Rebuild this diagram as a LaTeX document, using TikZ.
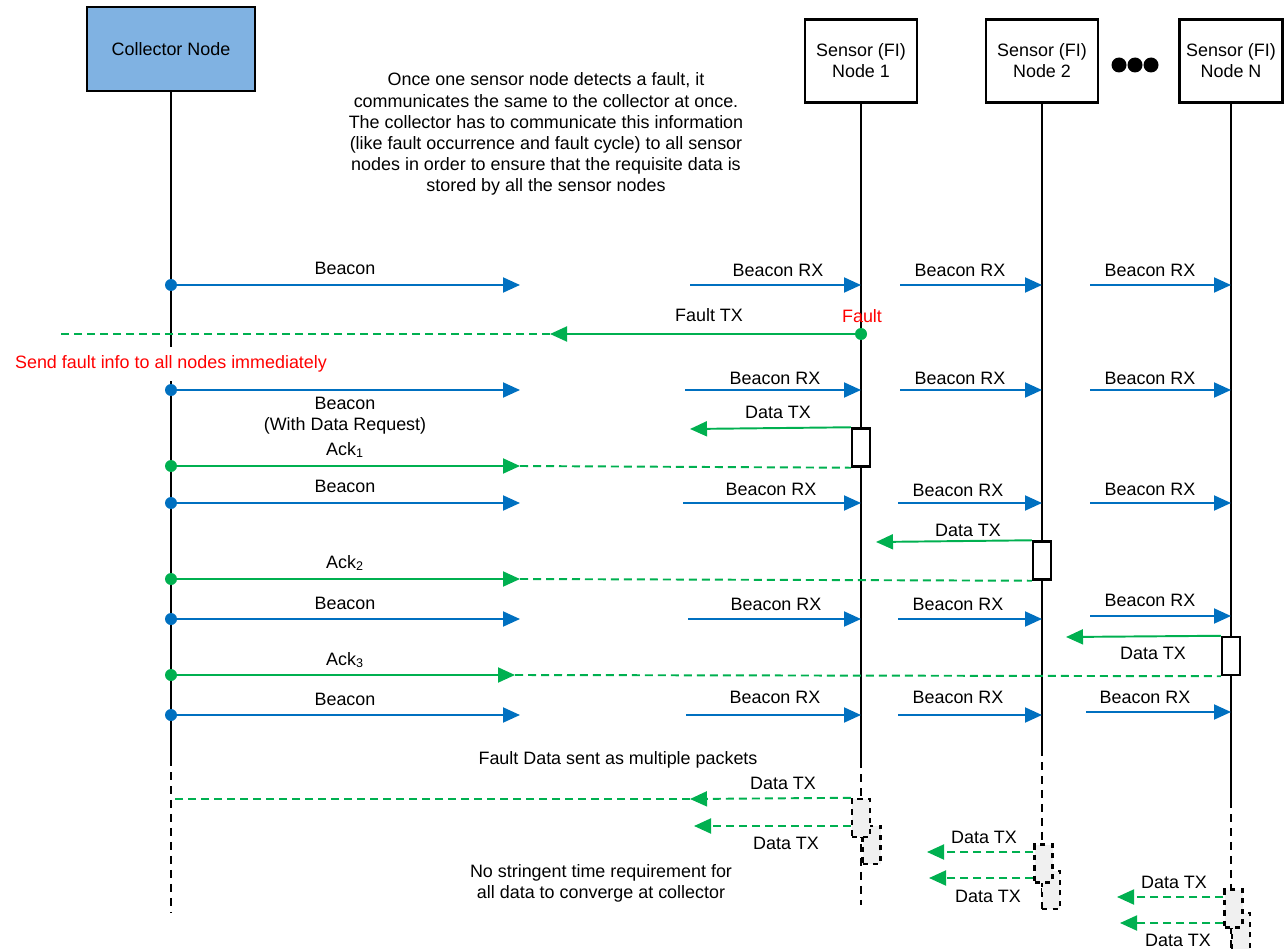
\documentclass[tikz,border=0pt]{standalone}
\usepackage{fontspec}
\setmainfont{Liberation Sans}
\usetikzlibrary{arrows.meta, positioning, calc}
\definecolor{beaconBlue}{RGB}{0,112,192}
\definecolor{ackGreen}{RGB}{0,176,80}
\definecolor{collectorFill}{RGB}{128,178,226}
\definecolor{faultRed}{RGB}{255,0,0}
\tikzstyle{collector} = [rectangle, minimum width=3.36cm, minimum height=1.68cm, text centered, draw=black, line width=1.4pt, fill=collectorFill]
\tikzstyle{sensor} = [rectangle, minimum width=2.24cm, minimum height=1.66cm, align=center, draw=black, line width=1.4pt, fill=white]
\tikzstyle{lifeline} = [draw=black, line width=1.1pt]
\tikzstyle{lifedash} = [draw=black, line width=1.1pt, dash pattern=on 0.16cm off 0.12cm]
\tikzstyle{beacon} = [draw=beaconBlue, line width=1.1pt, -{Triangle[length=0.34cm,width=0.3cm]}]
\tikzstyle{datatx} = [draw=ackGreen, line width=1.1pt, -{Triangle[length=0.34cm,width=0.3cm]}]
\tikzstyle{greendash} = [draw=ackGreen, line width=1.1pt, dash pattern=on 0.16cm off 0.1cm]
\tikzstyle{bdot} = [circle, fill=beaconBlue, inner sep=0, minimum size=0.24cm]
\tikzstyle{gdot} = [circle, fill=ackGreen, inner sep=0, minimum size=0.24cm]
\tikzstyle{active} = [rectangle, draw=black, line width=1.4pt, fill=white, inner sep=0, minimum width=0.36cm, minimum height=0.76cm]
\tikzstyle{packet} = [active, dashed, fill=black!6]

\begin{document}
\begin{tikzpicture}[x=0.02cm, y=-0.02cm, font=\fontsize{10.2}{12}\selectfont]
\useasboundingbox (0,0) rectangle (1284,949);

% participants
\node (col) [collector] at (171,49) {Collector Node};
\node (s1) [sensor] at (861,61) {Sensor (FI)\\Node 1};
\node (s2) [sensor] at (1042,61) {Sensor (FI)\\Node 2};
\node (sn) [sensor, minimum width=2.06cm] at (1231,61) {Sensor (FI)\\Node N};
\fill (1119,65) circle[radius=0.15cm] (1135,65) circle[radius=0.15cm] (1151,65) circle[radius=0.15cm];

\node (note) [align=center] at (546,134) {Once one sensor node detects a fault, it\\communicates the same to the collector at once.\\The collector has to communicate this information\\(like fault occurrence and fault cycle) to all sensor\\nodes in order to ensure that the requisite data is\\stored by all the sensor nodes};

% lifelines
\draw[lifeline] (col.south) -- (171,758) coordinate (colE);
\draw[lifedash] (colE) -- (171,912);
\draw[lifeline] (s1.south) -- (861,760) coordinate (s1E);
\draw[lifedash] (s1E) -- (861,905);
\draw[lifeline] (s2.south) -- (1042,748) coordinate (s2E);
\draw[lifedash] (s2E) -- (1042,909);
\draw[lifeline] (sn.south) -- (1231,800) coordinate (snE);
\draw[lifedash] (snE) -- (1231,949);

% first beacon
\node (bA) [bdot] at (171,285) {};
\draw[beacon] (bA.center) -- (520,285);
\node (lA) at (345,268) {Beacon};
\draw[beacon] (690,285) coordinate (rA1) -- (s1 |- bA);
\draw[beacon] (900,285) coordinate (rA2) -- (s2 |- bA);
\draw[beacon] (1090,285) coordinate (rA3) -- (sn |- bA);
\node (lA1) at (778,270) {Beacon RX};
\node (lA2) at (960,270) {Beacon RX};
\node (lA3) at (1150,270) {Beacon RX};

% fault
\node (fault) [gdot] at (861,334) {};
\node (lFault) [text=faultRed] at (862,316) {Fault};
\draw[greendash] (550,334) coordinate (fTip) -- (57,334);
\draw[datatx] (fault.center) -- (fTip);
\node (lFaultTX) at (709,315) {Fault TX};
\node (sendAll) [fill=white, text=faultRed, inner xsep=1pt, inner ysep=5pt] at (171,364) {Send fault info to all nodes immediately};

% beacon with data request
\node (bB) [bdot] at (171,390) {};
\draw[beacon] (bB.center) -- (520,390);
\node (lB) [align=center] at (345,416) {Beacon\\(With Data Request)};
\draw[beacon] (685,390) coordinate (rB1) -- (s1 |- bB);
\draw[beacon] (900,390) coordinate (rB2) -- (s2 |- bB);
\draw[beacon] (1090,390) coordinate (rB3) -- (sn |- bB);
\node (lB1) at (775,378) {Beacon RX};
\node (lB2) at (960,378) {Beacon RX};
\node (lB3) at (1150,378) {Beacon RX};

% node 1 data
\node (a1) [active] at (861,447.5) {};
\draw[datatx] (a1.north west) -- (690,429);
\node (lD1) at (778,412) {Data TX};
\node (k1) [gdot] at (171,466) {};
\draw[greendash] (520,466) coordinate (k1Tip) -- (a1.south west);
\draw[datatx] (k1.center) -- (k1Tip);
\node (lK1) at (345,450) {Ack\textsubscript{1}};

\node (bC) [bdot] at (171,503) {};
\draw[beacon] (bC.center) -- (520,503);
\node (lC) at (345,486) {Beacon};
\draw[beacon] (683,503) coordinate (rC1) -- (s1 |- bC);
\draw[beacon] (898,503) coordinate (rC2) -- (s2 |- bC);
\draw[beacon] (1090,503) coordinate (rC3) -- (sn |- bC);
\node (lC1) at (771,489) {Beacon RX};
\node (lC2) at (958,490) {Beacon RX};
\node (lC3) at (1150,489) {Beacon RX};

% node 2 data
\node (a2) [active] at (1042,560.5) {};
\draw[datatx] (a2.north west) -- (876,542);
\node (lD2) at (968,530) {Data TX};
\node (k2) [gdot] at (171,579) {};
\draw[greendash] (520,579) coordinate (k2Tip) -- (a2.south west);
\draw[datatx] (k2.center) -- (k2Tip);
\node (lK2) at (345,563) {Ack\textsubscript{2}};

\node (bD) [bdot] at (171,619) {};
\draw[beacon] (bD.center) -- (520,619);
\node (lD) at (345,603) {Beacon};
\draw[beacon] (688,619) coordinate (rD1) -- (s1 |- bD);
\draw[beacon] (898,619) coordinate (rD2) -- (s2 |- bD);
\draw[beacon] (1090,616) coordinate (rD3) -- (sn |- rD3);
\node (lD1r) at (776,604) {Beacon RX};
\node (lD2r) at (958,604) {Beacon RX};
\node (lD3r) at (1150,600) {Beacon RX};

% node N data
\node (a3) [active] at (1231,656) {};
\draw[datatx] (a3.north west) -- (1066,637);
\node (lD3) at (1153,653) {Data TX};
\node (k3) [gdot] at (171,675) {};
\draw[greendash] (515,675) coordinate (k3Tip) -- (a3.south west);
\draw[datatx] (k3.center) -- (k3Tip);
\node (lK3) at (345,660) {Ack\textsubscript{3}};

\node (bE) [bdot] at (171,715) {};
\draw[beacon] (bE.center) -- (520,715);
\node (lE) at (345,699) {Beacon};
\draw[beacon] (686,715) coordinate (rE1) -- (s1 |- bE);
\draw[beacon] (898,715) coordinate (rE2) -- (s2 |- bE);
\draw[beacon] (1086,712) coordinate (rE3) -- (sn |- rE3);
\node (lE1) at (775,697) {Beacon RX};
\node (lE2) at (958,697) {Beacon RX};
\node (lE3) at (1145,697) {Beacon RX};

% fault data packets
\node (multi) at (618,760) {Fault Data sent as multiple packets};
\node (p12) [packet] at (871.5,845) {};
\node (p11) [packet] at (861,818) {};
\draw[greendash] (690,799) coordinate (pTip) -- (col |- pTip);
\draw[datatx, greendash] (p11.north west) -- (pTip);
\draw[datatx, greendash] (p11.west |- 0,826) -- (694,826);
\node (lP11) at (783,783) {Data TX};
\node (lP12) at (786,843) {Data TX};

\node (p22) [packet] at (1051,890) {};
\node (p21) [packet] at (1043.5,863.5) {};
\draw[datatx, greendash] (p21.west |- 0,852) -- (927,852);
\draw[datatx, greendash] (p21.west |- 0,878) -- (929,878);
\node (lP21) at (984,837) {Data TX};
\node (lP22) at (988,896) {Data TX};

\node (pn2) [packet] at (1241,932) {};
\node (pn1) [packet] at (1233.5,908.5) {};
\draw[datatx, greendash] (pn1.west |- 0,897) -- (1117,897);
\draw[datatx, greendash] (pn1.west |- 0,923) -- (1120,923);
\node (lPn1) at (1174,882) {Data TX};
\node (lPn2) at (1178,940) {Data TX};

\node (stringent) [align=center] at (601,883) {No stringent time requirement for\\all data to converge at collector};
\end{tikzpicture}
\end{document}
